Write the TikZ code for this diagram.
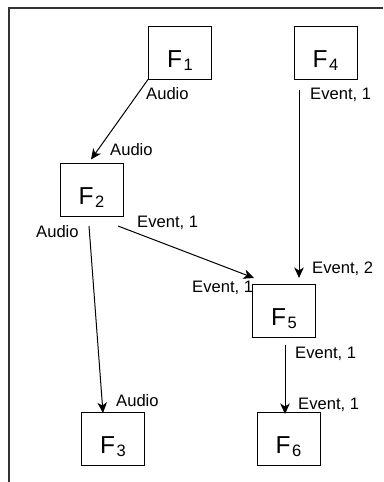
\documentclass[tikz,border=0pt]{standalone}
\usepackage{fontspec}
\setmainfont{Liberation Sans}
\usetikzlibrary{arrows.meta}
\begin{document}
\begin{tikzpicture}[x=1pt,y=-1pt,
  fbox/.style={draw=black,line width=1pt,minimum width=63pt,minimum height=53pt,inner sep=0pt,
    text height=31pt,text depth=2pt,font=\fontsize{24.5}{26}\selectfont},
  lbl/.style={anchor=base west,inner sep=0pt,font=\fontsize{16.6}{18}\selectfont},
  arr/.style={line width=1pt,-{Stealth[length=10.5pt,width=9.5pt,inset=3pt]}},
  frame/.style={line width=1.5pt,draw=black!80}]
\useasboundingbox (0,0) rectangle (383,482);
\newcommand{\Fsub}[1]{F\kern1.5pt\raisebox{-3pt}{\fontsize{16.5}{18}\selectfont #1}}
% frame
\coordinate (tl) at (9,8);
\coordinate (tr) at (383,8);
\coordinate (bl) at (9,482);
\draw[frame] (tr) -- (tl) -- (bl);
% labels
\node[lbl] (l1) at (146,99.3) {Audio};
\node[lbl] (l2) at (110,155) {Audio};
\node[lbl] (l3) at (310,99.3) {Event, 1};
\node[lbl] (l4) at (137,227.3) {Event, 1};
\node[lbl] (l5) at (36,237.3) {Audio};
\node[lbl] (l6) at (312,273.3) {Event, 2};
\node[lbl] (l7) at (192,292) {Event, 1};
\node[lbl] (l8) at (295,358.3) {Event, 1};
\node[lbl] (l9) at (116,406.7) {Audio};
\node[lbl] (l10) at (298,409.3) {Event, 1};
% boxes
\node[fbox] (F1) at (180,52.5) {\Fsub{1}};
\node[fbox] (F4) at (325.5,52.5) {\Fsub{4}};
\node[fbox] (F2) at (91.5,190) {\Fsub{2}};
\node[fbox] (F5) at (284,311) {\Fsub{5}};
\node[fbox] (F3) at (113,439) {\Fsub{3}};
\node[fbox] (F6) at (288.5,439) {\Fsub{6}};
% connector ends
\coordinate (s12) at (F1.south west);
\coordinate (e12) at (91,159.5);
\coordinate (s45) at (299,90);
\coordinate (e45) at (299,278);
\coordinate (s25) at (118,226);
\coordinate (e25) at (254,278);
\coordinate (s23) at (89,226);
\coordinate (e23) at (103,413);
\coordinate (s56) at (285,345);
\coordinate (e56) at (285,414);
\draw[arr] (s12) -- (e12);
\draw[arr] (s45) -- (e45);
\draw[arr] (s25) -- (e25);
\draw[arr] (s23) -- (e23);
\draw[arr] (s56) -- (e56);
\end{tikzpicture}
\end{document}
